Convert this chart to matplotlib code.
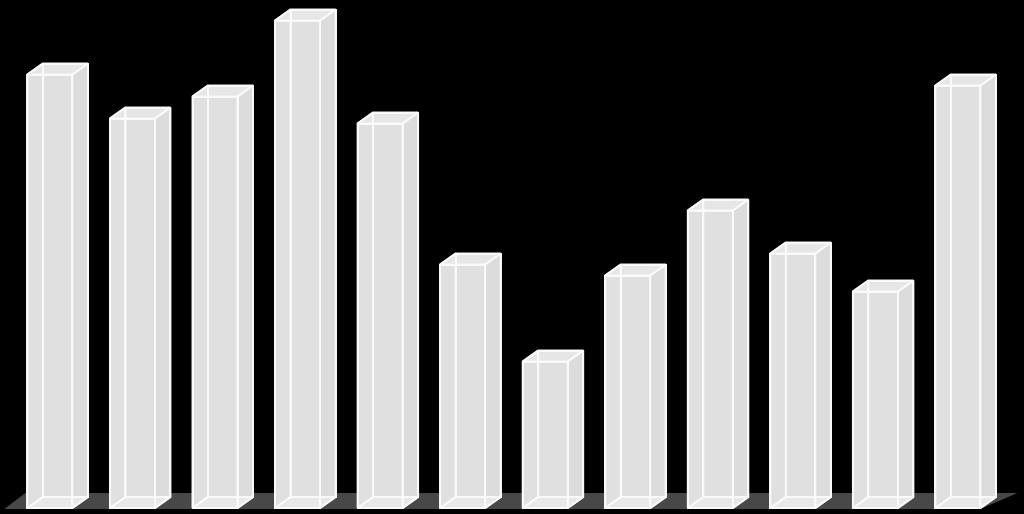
import matplotlib
matplotlib.use('Agg')
import matplotlib.pyplot as plt
from matplotlib.patches import Polygon

# bar heights
months = list(range(12))
values = [433.5, 389.5, 411.5, 487.5, 384.5, 243.5, 146.5, 232.5, 297.5, 254.5, 216.5, 422.5]

bar_w = 45 / 82.55   # front face width, in category units
depth_x = 15.5 / 82.55
depth_y = 11


def box_faces(x, h):
    x0, x1 = x, x + bar_w
    bx0, bx1 = x0 + depth_x, x1 + depth_x
    front = [(x0, 0), (x1, 0), (x1, h), (x0, h)]
    side = [(x1, 0), (bx1, depth_y), (bx1, h + depth_y), (x1, h)]
    top = [(x0, h), (x1, h), (bx1, h + depth_y), (bx0, h + depth_y)]
    bottom = [(x0, 0), (x1, 0), (bx1, depth_y), (bx0, depth_y)]
    back = [(bx0, depth_y), (bx1, depth_y), (bx1, h + depth_y), (bx0, h + depth_y)]
    left = [(x0, 0), (bx0, depth_y), (bx0, h + depth_y), (x0, h)]
    return front, side, top, bottom, back, left


fig = plt.figure(figsize=(10.24, 5.14), dpi=100, facecolor='black')
ax = fig.add_axes([0, 0, 1, 1], facecolor='black')
# one category is 82.55 px wide, first bar starts at 27 px, baseline at 508 px
ax.set_xlim(-27.4 / 82.55, (1024 - 27.4) / 82.55)
ax.set_ylim(-6, 508)
ax.axis('off')

# floor
ax.add_patch(Polygon([(-23 / 82.55, -1), (953 / 82.55, -1), (990 / 82.55, 15), (-2 / 82.55, 15)],
                     closed=True, fc='#484848', ec='none', zorder=1))

for m, v in zip(months, values):
    front, side, top, bottom, back, left = box_faces(m, v)
    ax.add_patch(Polygon(front, fc='#e0e0e0', ec='none', zorder=2))
    ax.add_patch(Polygon(side, fc='#dcdcdc', ec='none', zorder=2))
    ax.add_patch(Polygon(top, fc='#e6e6e6', ec='none', zorder=2))
    # bottom face shows lighter through the front
    ax.add_patch(Polygon(bottom, fc='#e8e8e8', ec='none', zorder=2))
    for face in (back, left, bottom, side, top, front):
        ax.add_patch(Polygon(face, fc='none', ec='#fafafa', lw=1.4, joinstyle='miter', zorder=3))

fig.savefig('out.png', dpi=100, facecolor='black')
